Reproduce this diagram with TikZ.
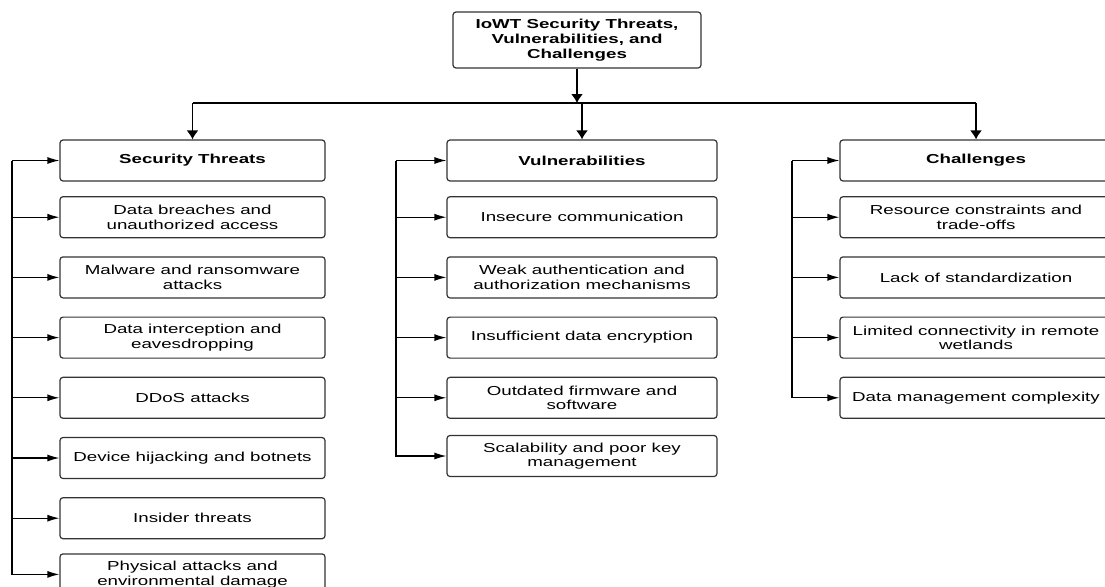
\documentclass[tikz,border=0pt]{standalone}
\usepackage{fontspec}
\setmainfont[FakeStretch=1.44]{Liberation Sans}
\usepackage{tikz}
\usetikzlibrary{arrows.meta,positioning}

\begin{document}
\begin{tikzpicture}[x=1pt,y=1pt,node distance=18pt,>={Latex[length=12pt,width=7pt]}]

    \tikzstyle{box}=[draw=black!80,line width=1.2pt,rounded corners=3pt,minimum height=41pt,inner sep=2pt,align=center,font=\fontsize{13}{14.5}\selectfont]
    \tikzstyle{head}=[box,font=\fontsize{13}{14.5}\selectfont\bfseries]
    \tikzstyle{feed}=[->,line width=1.2pt]
    \tikzstyle{down}=[-{Latex[length=9pt,width=12pt]},line width=1.5pt]

    \useasboundingbox (0,0) rectangle (1105,-586);

    % root
    \node [head,minimum width=248pt,minimum height=56pt,font=\fontsize{13}{15}\selectfont\bfseries] (root) at (577,-40)
        {IoWT Security Threats,\\Vulnerabilities, and\\Challenges};

    % column heads
    \node [head,minimum width=265pt] (st) at (192.5,-160.5) {Security Threats};
    \node [head,minimum width=270pt] (vu) at (582,-160.5) {Vulnerabilities};
    \node [head,minimum width=272pt] (ch) at (976,-160.5) {Challenges};

    \begin{scope}[every node/.style={box,minimum width=265pt}]
        \node (st1) [below=14.5pt of st] {Data breaches and\\unauthorized access};
        \node (st2) [below=of st1] {Malware and ransomware\\attacks};
        \node (st3) [below=of st2] {Data interception and\\eavesdropping};
        \node (st4) [below=of st3] {DDoS attacks};
        \node (st5) [below=of st4] {Device hijacking and botnets};
        \node (st6) [below=of st5] {Insider threats};
        \node (st7) [below=14pt of st6] {Physical attacks and\\environmental damage};
    \end{scope}

    \begin{scope}[every node/.style={box,minimum width=270pt}]
        \node (vu1) [below=14.5pt of vu] {Insecure communication};
        \node (vu2) [below=of vu1] {Weak authentication and\\authorization mechanisms};
        \node (vu3) [below=of vu2] {Insufficient data encryption};
        \node (vu4) [below=of vu3] {Outdated firmware and\\software};
        \node (vu5) [below=16pt of vu4] {Scalability and poor key\\management};
    \end{scope}

    \begin{scope}[every node/.style={box,minimum width=272pt}]
        \node (ch1) [below=14.5pt of ch] {Resource constraints and\\trade-offs};
        \node (ch2) [below=of ch1] {Lack of standardization};
        \node (ch3) [below=of ch2] {Limited connectivity in remote\\wetlands};
        \node (ch4) [below=of ch3] {Data management complexity};
    \end{scope}

    % trunk
    \coordinate (trunk) at (0,-103);
    \draw [down] (root) -- (root.south |- trunk);
    \draw [line width=1.5pt] (st.north |- trunk) -- (ch.north |- trunk);
    \foreach \n in {st,vu,ch}
        \draw [down] (\n.north |- trunk) -- (\n.north);

    % side buses
    \coordinate (bs) at (12,0);
    \coordinate (bv) at (396,0);
    \coordinate (bc) at (792,0);
    \draw [feed] (bs |- st.west) |- (st7.west);
    \foreach \n in {st,st1,st2,st3,st4,st5,st6}
        \draw [feed] (bs |- \n.west) -- (\n.west);
    \draw [feed] (bv |- vu.west) |- (vu5.west);
    \foreach \n in {vu,vu1,vu2,vu3,vu4}
        \draw [feed] (bv |- \n.west) -- (\n.west);
    \draw [feed] (bc |- ch.west) |- (ch4.west);
    \foreach \n in {ch,ch1,ch2,ch3}
        \draw [feed] (bc |- \n.west) -- (\n.west);
\end{tikzpicture}
\end{document}
